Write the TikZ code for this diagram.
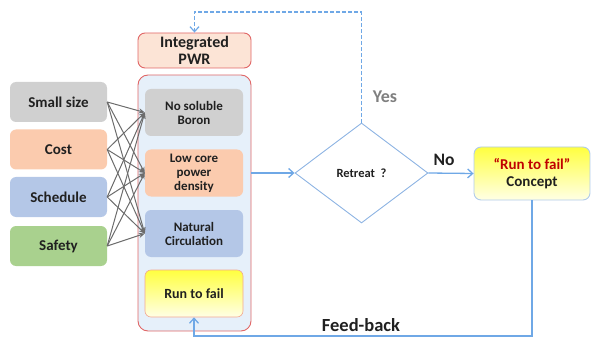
\documentclass[tikz,border=0pt]{standalone}
\usepackage{fontspec}
\setmainfont{Carlito}
\usetikzlibrary{arrows.meta,shapes.geometric}
\definecolor{cgray}{HTML}{D0D0D0}
\definecolor{cpeach}{HTML}{FBCBAE}
\definecolor{cblue}{HTML}{B4C7E7}
\definecolor{cgreen}{HTML}{A9D18E}
\definecolor{cred}{HTML}{E06666}
\definecolor{cpale}{HTML}{E6F0FA}
\definecolor{cpwr}{HTML}{FCE4D6}
\definecolor{cline}{HTML}{6FA8E6}
\definecolor{cdia}{HTML}{8EB4E3}
\definecolor{cdark}{HTML}{C00000}
\definecolor{cyes}{HTML}{7F7F7F}
\definecolor{ctext}{HTML}{202020}
\begin{document}
\begin{tikzpicture}[x=1pt,y=-1pt, text=ctext,
  leftbox/.style={rounded corners=6pt, minimum width=97pt, minimum height=40pt, inner sep=0pt, font=\bfseries\fontsize{15}{15}\selectfont},
  innerbox/.style={rounded corners=6pt, minimum width=98pt, minimum height=47pt, inner sep=0pt, align=center, font=\bfseries\fontsize{13}{14}\selectfont},
  garrow/.style={draw=gray!85!black, line width=1pt, -{Stealth[length=6pt,width=5pt]}},
  barrow/.style={draw=cline, line width=1.3pt, -{Straight Barb[length=5pt,width=9pt]}},
  dasharrow/.style={draw=cline, line width=1.2pt, dash pattern=on 4pt off 2pt, -{Straight Barb[length=5pt,width=9pt]}}
]
\useasboundingbox (0,0) rectangle (591,339);

% left boxes
\node[leftbox, fill=cgray] (ss) at (58.5,102) {Small size};
\node[leftbox, fill=cpeach] (co) at (58.5,149.5) {Cost};
\node[leftbox, fill=cblue] (sc) at (58.5,197) {Schedule};
\node[leftbox, fill=cgreen] (sa) at (58.5,246) {Safety};

% integrated PWR
\node[draw=cred, fill=cpwr, line width=0.9pt, rounded corners=7pt, minimum width=113pt, minimum height=35pt, inner sep=0pt, align=center, font=\bfseries\fontsize{16}{16.5}\selectfont] (pwr) at (194.5,50.5) {Integrated\\PWR};

% container
\node[draw=cred, fill=cpale, line width=0.9pt, rounded corners=10pt, minimum width=113pt, minimum height=256pt, inner sep=0pt] (cont) at (194.5,203) {};

% inner boxes
\node[innerbox, fill=cgray] (nb) at (194,112.5) {No soluble\\Boron};
\node[innerbox, fill=cpeach] (lc) at (194,173) {Low core\\power\\density};
\node[innerbox, fill=cblue] (nc) at (194,233.5) {Natural\\Circulation};
\node[innerbox, draw=cred!70!orange!60, line width=0.6pt, top color=yellow!75, bottom color=yellow!10, font=\bfseries\fontsize{14}{14}\selectfont] (rtf) at (194,293.5) {Run to fail};

% many-to-many arrows
\foreach \s in {ss,co,sc,sa}{
  \foreach \t in {nb,lc,nc}{
    \draw[garrow] (\s.east) -- (\t.west);
  }
}

% diamond
\node[draw=cdia, line width=0.9pt, diamond, inner sep=0pt, minimum width=133pt, minimum height=100pt, font=\bfseries\fontsize{12.5}{13}\selectfont] (dia) at (361.5,173) {Retreat\ \ ?};

% concept
\node[draw=cdia!70, line width=0.9pt, rounded corners=7pt, top color=yellow!75, bottom color=yellow!10, minimum width=116pt, minimum height=53pt, inner sep=0pt, align=center, font=\bfseries\fontsize{15}{17}\selectfont] (concept) at (532,173.5) {\textcolor{cdark}{“Run to fail”}\\Concept};

% arrows
\draw[barrow] (cont.east |- dia.west) -- (dia.west);
\draw[barrow] (dia.east) -- (concept.west);

\coordinate (topc) at (361.5,12);
\draw[dasharrow] (dia.north) -- (topc) -| (pwr.north);

\coordinate (fb) at (532,336);
\draw[barrow] (concept.south) -- (fb) -| (rtf.south);

% labels
\node[text=cyes, font=\bfseries\fontsize{18}{19}\selectfont] (yes) at (385,97) {Yes};
\node[font=\bfseries\fontsize{17.5}{18}\selectfont] (no) at (444,160) {No};
\node[font=\bfseries\fontsize{18.5}{19}\selectfont] (feed) at (361,325) {Feed-back};
\end{tikzpicture}
\end{document}
